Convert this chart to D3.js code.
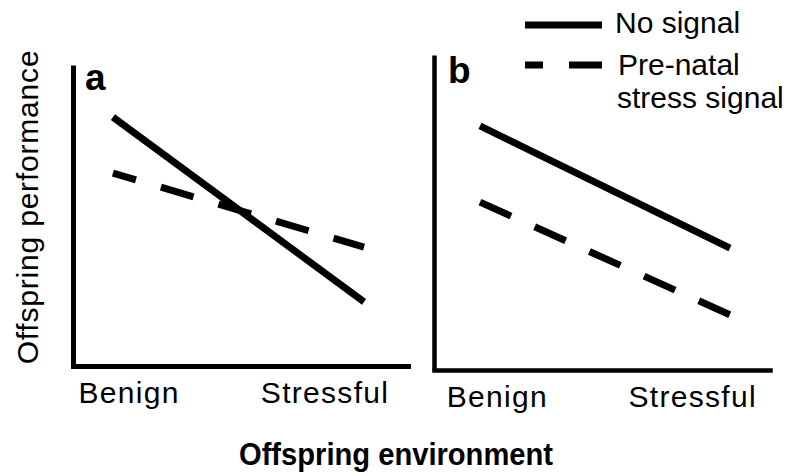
<!DOCTYPE html>
<html>
<head>
<meta charset="utf-8">
<script src="https://cdn.jsdelivr.net/npm/d3@7"></script>
<style>
  html, body { margin: 0; padding: 0; background: #fff; }
  svg { display: block; }
  text { font-family: "Liberation Sans", Arial, Helvetica, sans-serif; fill: #000; }
</style>
</head>
<body>
<svg id="chart" width="790" height="476"></svg>
<script>
// ---- data ----
const categories = ["Benign", "Stressful"];
const seriesNames = ["No signal", "Pre-natal stress signal"];
const panelLabels = ["a", "b"];
// panel a: offspring performance (arbitrary units, 0-10)
const panelA_noSignal = [8.27, 2.13];
const panelA_stressSignal = [6.41, 3.95];
// panel b
const panelB_noSignal = [7.75, 3.87];
const panelB_stressSignal = [5.33, 1.75];
const yLabel = "Offspring performance";
const xLabel = "Offspring environment";

const svg = d3.select("#chart");

const panels = [
  { label: panelLabels[0], left: 73, right: 408, top: 65, bottom: 366,
    lineP: 0.167, lineA: 0.476, tickP: 0.355, tickA: 0.40,
    series: [panelA_noSignal, panelA_stressSignal], dashOffset: 10,
    labelX: 85, labelY: 90, axisW: 5 },
  { label: panelLabels[1], left: 434, right: 770, top: 55, bottom: 370,
    lineP: 0.172, lineA: 0.535, tickP: 0.36, tickA: 0.447,
    series: [panelB_noSignal, panelB_stressSignal], dashOffset: 0,
    labelX: 448, labelY: 83, axisW: 4.5 }
];

panels.forEach(p => {
  const y = d3.scaleLinear().domain([0, 10]).range([p.bottom, p.top]);
  const xLine = d3.scalePoint().domain(categories).range([p.left, p.right])
    .padding(p.lineP).align(p.lineA);
  const xTick = d3.scalePoint().domain(categories).range([p.left, p.right])
    .padding(p.tickP).align(p.tickA);

  // x axis
  const gx = svg.append("g").attr("transform", `translate(0,${p.bottom})`)
    .call(d3.axisBottom(xTick).tickSize(0).tickSizeOuter(0).tickPadding(16));
  gx.select(".domain").attr("stroke", "#000").attr("stroke-width", p.axisW)
    .attr("stroke-linecap", "square");
  gx.selectAll(".tick text").attr("font-size", 30).attr("letter-spacing", "1.3px")
    .attr("font-family", "Liberation Sans, Arial, sans-serif").attr("fill", "#000");

  // y axis
  const gy = svg.append("g").attr("transform", `translate(${p.left},0)`)
    .call(d3.axisLeft(y).tickValues([]).tickSizeOuter(0));
  gy.select(".domain").attr("stroke", "#000").attr("stroke-width", p.axisW)
    .attr("stroke-linecap", "butt");

  // lines
  const line = d3.line().x((d, i) => xLine(categories[i])).y(d => y(d));
  svg.append("path").datum(p.series[0]).attr("d", line)
    .attr("fill", "none").attr("stroke", "#000").attr("stroke-width", 7)
    .attr("stroke-linecap", "butt");
  svg.append("path").datum(p.series[1]).attr("d", line)
    .attr("fill", "none").attr("stroke", "#000").attr("stroke-width", 7)
    .attr("stroke-dasharray", "34,26").attr("stroke-dashoffset", p.dashOffset)
    .attr("stroke-linecap", "butt");

  // panel label
  svg.append("text").attr("x", p.labelX).attr("y", p.labelY)
    .attr("font-size", 37).attr("font-weight", "bold").text(p.label);
});

// y-axis title
svg.append("text")
  .attr("transform", "translate(38,207) rotate(-90)")
  .attr("text-anchor", "middle").attr("font-size", 30).attr("letter-spacing", "0.8px")
  .text(yLabel);

// x-axis title (slightly condensed, as in the reference)
svg.append("text").attr("transform", "translate(396,465) scale(0.94,1)")
  .attr("text-anchor", "middle")
  .attr("font-size", 31).attr("font-weight", "bold").text(xLabel);

// legend
const legend = svg.append("g");
legend.append("line").attr("x1", 525).attr("x2", 602).attr("y1", 25).attr("y2", 25)
  .attr("stroke", "#000").attr("stroke-width", 7);
legend.append("line").attr("x1", 525).attr("x2", 602).attr("y1", 65).attr("y2", 65)
  .attr("stroke", "#000").attr("stroke-width", 7)
  .attr("stroke-dasharray", "34,26").attr("stroke-dashoffset", 16);
legend.append("text").attr("x", 615).attr("y", 33).attr("font-size", 30).text(seriesNames[0]);
const t2 = legend.append("text").attr("x", 618).attr("y", 75).attr("font-size", 30);
t2.append("tspan").attr("x", 618).text("Pre-natal");
t2.append("tspan").attr("x", 617).attr("y", 108).text("stress signal");
</script>
</body>
</html>
